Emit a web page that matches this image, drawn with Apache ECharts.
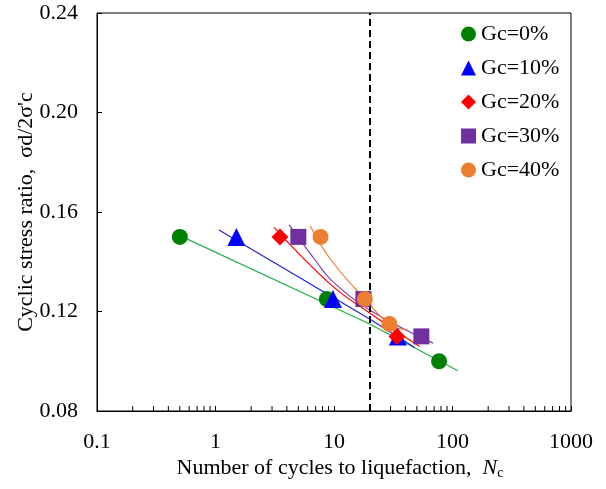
<!DOCTYPE html>
<html>
<head>
<meta charset="utf-8">
<script src="https://cdn.jsdelivr.net/npm/echarts@6/dist/echarts.min.js"></script>
<style>html,body{margin:0;padding:0;background:#fff}#c{width:606px;height:489px}</style>
</head>
<body>
<div id="c"></div>
<script>
// ---- data ----
var seriesNames = ['Gc=0%', 'Gc=10%', 'Gc=20%', 'Gc=30%', 'Gc=40%'];
var gc0  = [[0.5, 0.150], [8.7, 0.125], [77, 0.100]];
var gc10 = [[1.5, 0.150], [9.8, 0.125], [34.6, 0.110]];
var gc20 = [[3.5, 0.150], [34, 0.110]];
var gc30 = [[5.0, 0.150], [17.7, 0.125], [54.6, 0.110]];
var gc40 = [[7.7, 0.150], [18.2, 0.125], [29.3, 0.115]];
// fitted trend lines
var fit0  = [[0.5, 0.1505], [20, 0.1150], [111, 0.0962]];
var fit10 = [[1.07, 0.1528], [20, 0.1170], [47.9, 0.1055]];
var fit20 = [[3.12, 0.1538], [9.44, 0.1307], [20, 0.1194], [52.8, 0.1059]];
var fit30 = [[4.18, 0.1548], [7.26, 0.1394], [9.44, 0.1327], [20, 0.1206], [68.5, 0.1073]];
var fit40 = [[6.3, 0.1544], [9.44, 0.1407], [18.2, 0.1250], [29.3, 0.1150], [42, 0.1125]];
var limitN = 20;
var xMinorTicks = [0.2,0.3,0.4,0.5,0.6,0.7,0.8,0.9,2,3,4,5,6,7,8,9,20,30,40,50,60,70,80,90,200,300,400,500,600,700,800,900];
var yTickLabels = ['0.08', '0.12', '0.16', '0.20', '0.24'];

var FONT = 'Liberation Serif';
var FS = 22;
var markerColors = ['#008000', '#0000FF', '#FF0000', '#7030A0', '#ED7D31'];
var lineColors = ['#22B14C', '#2222DD', '#FF0000', '#8040B0', '#ED7D31'];
var symbols = ['circle', 'triangle', 'diamond', 'rect', 'circle'];
var symbolSizes = [16, 18, 17, 16, 16];
var pts = [gc0, gc10, gc20, gc30, gc40];
var fits = [fit0, fit10, fit20, fit30, fit40];

var series = [];
fits.forEach(function (f, i) {
  series.push({
    type: 'line', data: f, smooth: i >= 2 ? 0.4 : false, showSymbol: false, symbol: 'none',
    lineStyle: { color: lineColors[i], width: 1.2 }, z: 2, silent: true, legendHoverLink: false
  });
});
pts.forEach(function (p, i) {
  series.push({
    name: seriesNames[i], type: 'scatter', data: p, symbol: symbols[i], symbolSize: symbolSizes[i],
    itemStyle: { color: markerColors[i], opacity: 1 }, z: 5
  });
});
// vertical dashed limit line
series.push({
  type: 'line', data: [], z: 3,
  markLine: {
    silent: true, symbol: 'none', label: { show: false },
    lineStyle: { color: '#000', type: [7, 4], width: 2 },
    data: [{ xAxis: limitN }]
  }
});
// minor ticks on the log x axis
series.push({
  type: 'custom', z: 6, silent: true,
  data: xMinorTicks.map(function (v) { return [v, 0.08]; }),
  renderItem: function (params, api) {
    var p = api.coord([api.value(0), api.value(1)]);
    return { type: 'line', shape: { x1: p[0], y1: p[1], x2: p[0], y2: p[1] - 5 }, style: { stroke: '#000', lineWidth: 1 } };
  }
});

var chart = echarts.init(document.getElementById('c'), null, { renderer: 'canvas' });
chart.setOption({
  animation: false,
  backgroundColor: '#fff',
  grid: { left: 97, right: 35, top: 13, bottom: 78, show: true, borderColor: '#000', borderWidth: 1, backgroundColor: 'transparent' },
  legend: {
    data: seriesNames.map(function (n, i) { return { name: n, icon: symbols[i] }; }),
    orient: 'vertical', left: 461, top: 23, padding: 0, itemGap: 12, itemWidth: 15, itemHeight: 15,
    textStyle: { fontFamily: FONT, fontSize: FS, color: '#000' }
  },
  xAxis: {
    type: 'log', logBase: 10, min: 0.1, max: 1000,
    axisLine: { show: true, lineStyle: { color: '#000', width: 1 } },
    axisTick: { show: true, inside: true, length: 5, lineStyle: { color: '#000' } },
    splitLine: { show: false },
    axisLabel: { fontFamily: FONT, fontSize: FS, color: '#000', margin: 20,
      formatter: function (v) { return String(+v.toPrecision(3)); } },
    name: '{a|Number of cycles to liquefaction,  }{i|N}{s|c}',
    nameLocation: 'middle', nameGap: 46, nameMoveOverlap: false,
    nameTextStyle: { padding: [0, 0, 0, 12], rich: {
      a: { fontFamily: FONT, fontSize: FS, color: '#000' },
      i: { fontFamily: FONT, fontSize: FS, color: '#000', fontStyle: 'italic' },
      s: { fontFamily: FONT, fontSize: 14, color: '#000', verticalAlign: 'bottom', padding: [9, 0, 0, 0] }
    } }
  },
  yAxis: {
    type: 'value', min: 0.08, max: 0.24, interval: 0.04,
    axisLine: { show: true, lineStyle: { color: '#000', width: 1 } },
    axisTick: { show: true, inside: true, length: 5, lineStyle: { color: '#000' } },
    splitLine: { show: false },
    axisLabel: { fontFamily: FONT, fontSize: FS, color: '#000', margin: 19,
      formatter: function (v) { var idx = Math.round((v - 0.08) / 0.04); return yTickLabels[idx]; } },
    name: "Cyclic stress ratio,  σd/2σ'c", nameLocation: 'middle', nameGap: 60, nameMoveOverlap: false,
    nameTextStyle: { fontFamily: FONT, fontSize: FS, color: '#000' }
  },
  series: series
});
</script>
</body>
</html>
